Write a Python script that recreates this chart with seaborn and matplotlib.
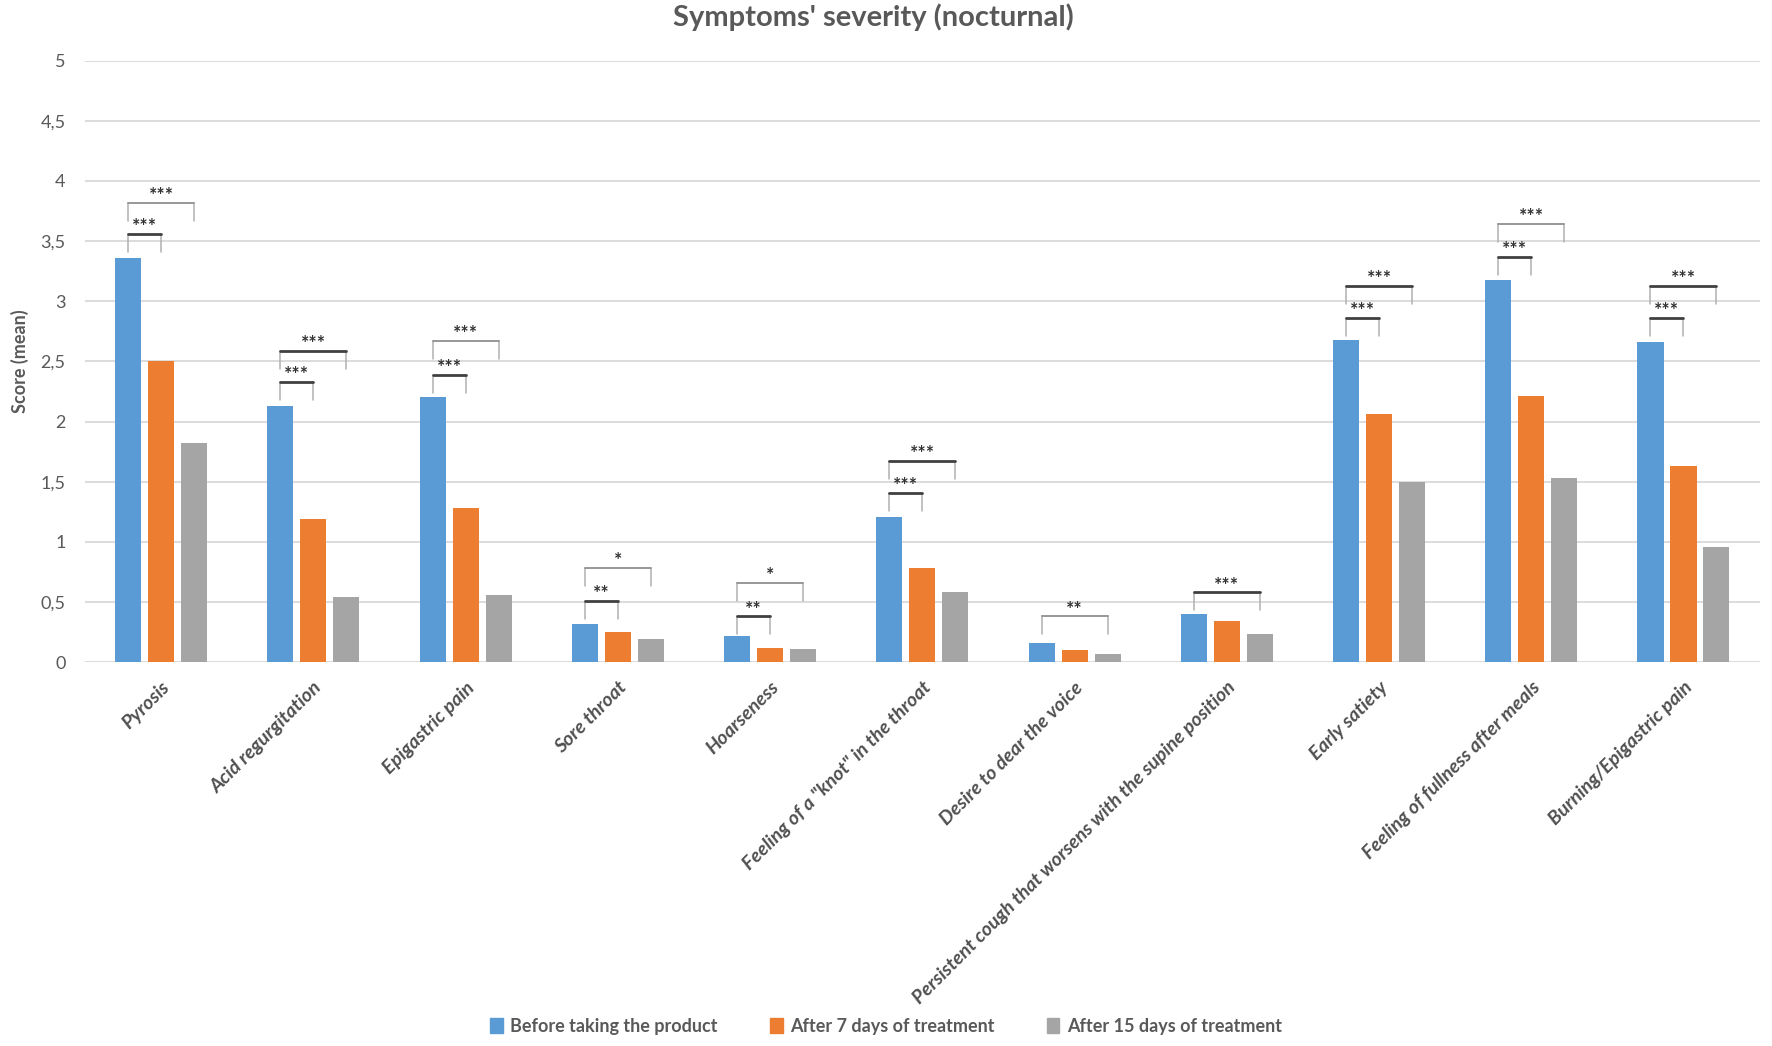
import numpy as np
import pandas as pd
import matplotlib
matplotlib.use("Agg")
import matplotlib.pyplot as plt
import seaborn as sns

# --- data ---
symptoms = [
    "Pyrosis", "Acid regurgitation", "Epigastric pain", "Sore throat", "Hoarseness",
    'Feeling of a "knot" in the throat', "Desire to dear the voice",
    "Persistent cough that worsens with the supine position",
    "Early satiety", "Feeling of fullness after meals", "Burning/Epigastric pain",
]
periods = ["Before taking the product", "After 7 days of treatment", "After 15 days of treatment"]
before = [3.36, 2.13, 2.20, 0.32, 0.22, 1.21, 0.16, 0.40, 2.68, 3.18, 2.66]
day7 = [2.50, 1.19, 1.28, 0.25, 0.12, 0.78, 0.10, 0.34, 2.06, 2.21, 1.63]
day15 = [1.82, 0.54, 0.56, 0.19, 0.11, 0.58, 0.07, 0.23, 1.50, 1.53, 0.96]

# significance brackets: before vs 7 days (low) and before vs 15 days (high)
sig_low = ["***", "***", "***", "**", "**", "***", None, None, "***", "***", "***"]
sig_low_y = [3.56, 2.33, 2.39, 0.51, 0.38, 1.41, None, None, 2.86, 3.37, 2.86]
sig_high = ["***", "***", "***", "*", "*", "***", "**", "***", "***", "***", "***"]
sig_high_y = [3.82, 2.59, 2.67, 0.78, 0.66, 1.67, 0.38, 0.58, 3.13, 3.64, 3.13]

colors = ["#5B9BD5", "#ED7D31", "#A5A5A5"]

df = pd.DataFrame({
    "Symptom": symptoms * 3,
    "Period": [periods[0]] * 11 + [periods[1]] * 11 + [periods[2]] * 11,
    "Score": before + day7 + day15,
})

sns.set_style("white")
plt.rcParams["font.family"] = ["Lato", "DejaVu Sans"]

fig = plt.figure(figsize=(17.72, 10.46), dpi=100)
ax = fig.add_axes([0.048, 0.367, 0.945, 0.575])

sns.barplot(data=df, x="Symptom", y="Score", hue="Period", palette=colors,
            width=0.65, gap=0.21, ax=ax, legend=False, errorbar=None,
            linewidth=0, saturation=1)

ax.set_ylim(0, 5)
ax.set_yticks(np.arange(0, 5.01, 0.5))
ax.set_yticklabels([("%g" % v).replace(".", ",") for v in np.arange(0, 5.01, 0.5)],
                   fontsize=13, color="#595959")
ax.yaxis.grid(True, color="#d9d9d9", linewidth=1.3)
ax.set_axisbelow(True)
for s in ax.spines.values():
    s.set_visible(False)
ax.tick_params(axis="both", length=0)
ax.tick_params(axis="y", pad=14)
ax.set_xlim(-0.5, len(symptoms) - 0.5)

ax.set_xlabel("")
ax.set_ylabel("Score (mean)", fontsize=13, fontweight="bold", color="#595959", labelpad=8)
ax.set_xticks(range(len(symptoms)))
ax.set_xticklabels(symptoms, rotation=45, ha="right", rotation_mode="anchor",
                   fontsize=14, fontstyle="italic", fontweight="bold", color="#505050")
ax.tick_params(axis="x", pad=12)

fig.suptitle("Symptoms' severity (nocturnal)", x=0.493, y=0.984, va="center", fontsize=21,
             fontweight="bold", color="#595959")


def bracket(x0, x1, y, label, dark):
    leg = 0.15
    ax.plot([x0, x0], [y - leg, y], color="#b0b0b0", lw=1.1)
    ax.plot([x1, x1], [y - leg, y], color="#b0b0b0", lw=1.1)
    ax.plot([x0, x1], [y, y], color="#404040" if dark else "#909090", lw=2 if dark else 1.3)
    ax.text((x0 + x1) / 2, y - 0.01, label, ha="center", va="bottom",
            fontsize=14, fontweight="bold", color="#303030")


cont = ax.containers
for i in range(len(symptoms)):
    xb = cont[0][i].get_x() + cont[0][i].get_width() / 2
    xo = cont[1][i].get_x() + cont[1][i].get_width() / 2
    xg = cont[2][i].get_x() + cont[2][i].get_width() / 2
    if sig_low[i]:
        bracket(xb, xo, sig_low_y[i], sig_low[i], True)
    bracket(xb, xg, sig_high_y[i], sig_high[i], i in (1, 5, 7, 8, 10))

handles = [plt.Rectangle((0, 0), 1, 1, color=c) for c in colors]
leg = fig.legend(handles, periods, loc="center", bbox_to_anchor=(0.5, 0.019), ncol=3,
                 frameon=False, handlelength=0.7, handleheight=0.9, handletextpad=0.4,
                 columnspacing=2.9, prop={"size": 13, "weight": "bold"})
for t in leg.get_texts():
    t.set_color("#595959")

fig.savefig("out.png", dpi=100, facecolor="white")
